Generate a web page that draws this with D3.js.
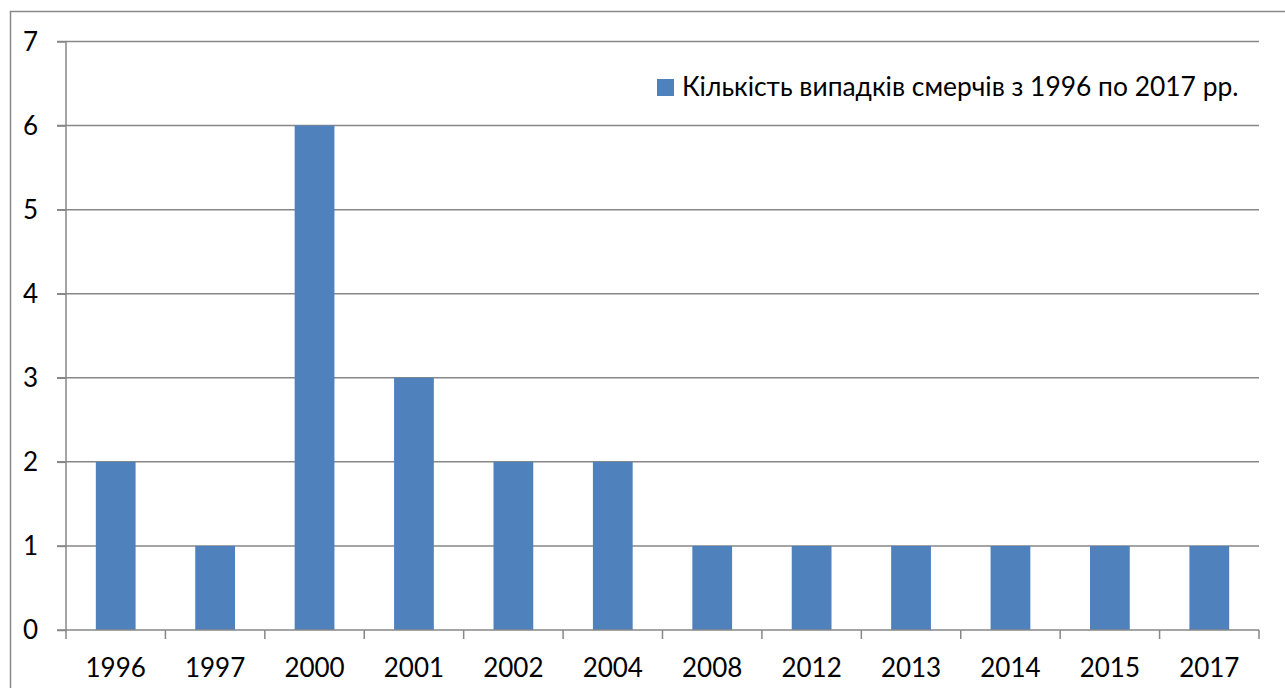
<!DOCTYPE html>
<html><head><meta charset="utf-8">
<script src="https://cdn.jsdelivr.net/npm/d3@7"></script>
<style>body{margin:0;background:#fff}svg{display:block}</style>
</head><body>
<script>
const categories = ["1996","1997","2000","2001","2002","2004","2008","2012","2013","2014","2015","2017"];
const values = [2,1,6,3,2,2,1,1,1,1,1,1];
const yTicks = [0,1,2,3,4,5,6,7];
const seriesName = "Кількість випадків смерчів з 1996 по 2017 рр.";

const W = 1285, H = 688;
const font = "Lato, 'Open Sans', sans-serif";
const svg = d3.select("body").append("svg").attr("width", W).attr("height", H);

svg.append("rect").attr("x",10.5).attr("y",11.5).attr("width",1300).attr("height",700)
  .attr("fill","#fff").attr("stroke","#898989").attr("stroke-width",1.5);

const x = d3.scaleBand().domain(categories).range([66,1259]).paddingInner(0.6).paddingOuter(0.3);
const xb = d3.scaleBand().domain(categories).range([66,1259]);
const y = d3.scaleLinear().domain([0,7]).range([630,41.5]);

// gridlines
svg.append("g").selectAll("line").data(yTicks.filter(d=>d>0)).join("line")
  .attr("x1",57).attr("x2",1259).attr("y1",d=>y(d)).attr("y2",d=>y(d))
  .attr("stroke","#878787").attr("stroke-width",1.5);

// bars
svg.append("g").selectAll("rect").data(values).join("rect")
  .attr("x",(d,i)=>x(categories[i])).attr("width",x.bandwidth())
  .attr("y",d=>y(d)).attr("height",d=>y(0)-y(d)).attr("fill","#4F81BD");

// y axis
const ya = svg.append("g").attr("transform","translate(66,0)")
  .call(d3.axisLeft(y).tickValues(yTicks).tickSize(9).tickPadding(0).tickFormat(d3.format("d")));
ya.select(".domain").attr("stroke","#878787").attr("stroke-width",1.5).attr("d","M0,41.5V630");
ya.selectAll(".tick line").attr("stroke","#878787").attr("stroke-width",1.5);
ya.selectAll("text").attr("font-family",font).attr("font-size",26).attr("fill","#000")
  .attr("text-anchor","middle").attr("x",-35.5).attr("dy","0.34em");

// x axis
const xa = svg.append("g").attr("transform","translate(0,630)");
xa.append("line").attr("x1",57).attr("x2",1259).attr("y1",0).attr("y2",0).attr("stroke","#878787").attr("stroke-width",1.5);
xa.selectAll(".tk").data(categories.concat(["end"])).join("line")
  .attr("x1",(d,i)=>i<categories.length?xb(d):xb.range()[1])
  .attr("x2",(d,i)=>i<categories.length?xb(d):xb.range()[1])
  .attr("y1",0).attr("y2",9).attr("stroke","#878787").attr("stroke-width",1.5);
xa.selectAll("text").data(categories).join("text")
  .attr("x",d=>xb(d)+xb.bandwidth()/2).attr("y",47)
  .attr("text-anchor","middle").attr("font-family",font).attr("font-size",26).attr("fill","#000").text(d=>d);

// legend
const lg = svg.append("g");
lg.append("rect").attr("x",657).attr("y",79).attr("width",17).attr("height",17).attr("fill","#4F81BD");
lg.append("text").attr("x",682).attr("y",96).attr("font-family",font).attr("font-size",26.4).attr("fill","#000").text(seriesName);
</script>
</body></html>
